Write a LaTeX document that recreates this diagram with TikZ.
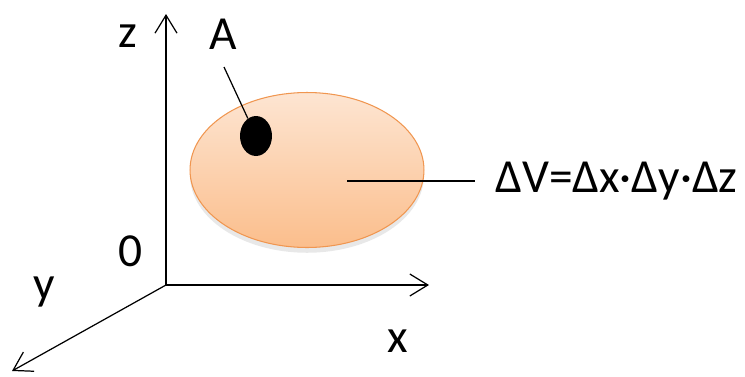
\documentclass[tikz,border=0pt]{standalone}
\usepackage{fontspec}
\setmainfont{Carlito}
\usetikzlibrary{shapes.geometric,arrows.meta,positioning,calc,shadows}
\definecolor{BlobTop}{RGB}{253, 229, 210}
\definecolor{BlobBottom}{RGB}{251, 190, 140}
\definecolor{BlobEdge}{RGB}{240, 150, 80}

\begin{document}
\begin{tikzpicture}[x=0.02cm, y=-0.02cm,
    axis/.style={line width=0.7pt, -{Straight Barb[length=3.6mm, width=4.4mm, line width=0.7pt]}},
    lbl/.style={font=\fontsize{27}{32}\selectfont},
    volume/.style={ellipse, draw=BlobEdge, line width=0.6pt, top color=BlobTop, bottom color=BlobBottom,
        minimum width=4.68cm, minimum height=3.1cm, inner sep=0pt,
        drop shadow={opacity=0.18, shadow xshift=0pt, shadow yshift=-3pt}},
    point/.style={ellipse, fill=black, minimum width=0.64cm, minimum height=0.8cm, inner sep=0pt}]
\useasboundingbox (0,0) rectangle (745,376);

% Axes
\coordinate (O) at (166,285);
\coordinate (zend) at (166,14);
\coordinate (xend) at (429,285);
\coordinate (yend) at (12,371);
\draw[axis] (O) -- (zend);
\draw[axis] (O) -- (xend);
\draw[axis] (O) -- (yend);
\node[lbl] (zlab) at (128,36) {z};
\node[lbl] (xlab) at (398,341) {x};
\node[lbl] (ylab) at (44,292) {y};
\node[lbl] (olab) at (131,251) {0};

% Volume element
\node[volume] (vol) at (307,170) {};
\node[point] (dot) at (256,136) {};

% Point A
\node[lbl] (alab) at (223,34) {A};
\coordinate (atip) at (224,67);
\draw[line width=0.7pt] (atip) -- (dot);

% Volume formula
\coordinate (vtip) at (347,181);
\node[lbl, anchor=west, inner sep=0pt] (dv) at (495,181) {ΔV=Δx·Δy·Δz};
\draw[line width=0.7pt] (vtip) -- (dv.west -| 475,0);
\end{tikzpicture}
\end{document}
